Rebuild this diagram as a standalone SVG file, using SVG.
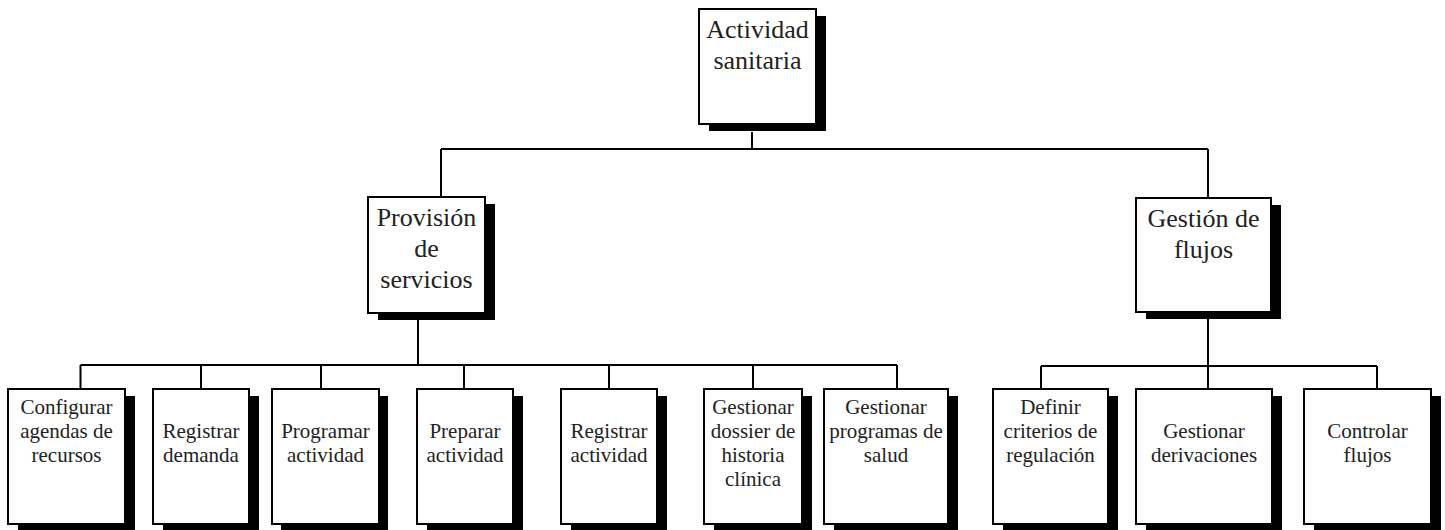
<svg xmlns="http://www.w3.org/2000/svg" width="1445" height="530" viewBox="0 0 1445 530">
  <style>
    .shadow { fill: #000; }
    .box { fill: #fff; stroke: #000; stroke-width: 2; }
    .lbl { font-family: "Liberation Serif", "Times New Roman", serif; fill: #222; text-anchor: middle; }
    .big { font-size: 26px; }
    .small { font-size: 21px; }
    .wire { fill: none; stroke: #000; stroke-width: 2; }
  </style>

  <!-- tree connectors -->
  <g id="connectors">
    <path class="wire" d="M752,132 V149 M441,149 H1208 M441,149 V197 M1208,149 V198"/>
    <path class="wire" d="M418,320 V365 M80.5,365 H897 M80.5,365 V389 M201,365 V389 M321,365 V389 M464,365 V389 M609,365 V389 M753,365 V389 M897,365 V389"/>
    <path class="wire" d="M1208,319 V366 M1041,366 H1377 M1041,366 V389 M1208,366 V389 M1377,366 V389"/>
  </g>

  <!-- root -->
  <g id="actividad-sanitaria">
    <rect class="shadow" x="709" y="16" width="117" height="115"/>
    <rect class="box" x="699" y="9" width="117" height="115"/>
    <text class="lbl big" x="757.5" y="38">Actividad</text>
    <text class="lbl big" x="757.5" y="69">sanitaria</text>
  </g>

  <!-- second level -->
  <g id="provision-servicios">
    <rect class="shadow" x="378" y="204" width="117" height="116"/>
    <rect class="box" x="368" y="197" width="117" height="116"/>
    <text class="lbl big" x="426.5" y="226">Provisión</text>
    <text class="lbl big" x="426.5" y="257">de</text>
    <text class="lbl big" x="426.5" y="288">servicios</text>
  </g>

  <g id="gestion-flujos">
    <rect class="shadow" x="1146" y="205" width="135" height="114"/>
    <rect class="box" x="1136" y="198" width="135" height="114"/>
    <text class="lbl big" x="1203.5" y="227">Gestión de</text>
    <text class="lbl big" x="1203.5" y="258">flujos</text>
  </g>

  <!-- leaves: provisión de servicios -->
  <g id="configurar-agendas">
    <rect class="shadow" x="18" y="396" width="117" height="135"/>
    <rect class="box" x="8" y="389" width="117" height="135"/>
    <text class="lbl small" x="66.5" y="414">Configurar</text>
    <text class="lbl small" x="66.5" y="438">agendas de</text>
    <text class="lbl small" x="66.5" y="462">recursos</text>
  </g>

  <g id="registrar-demanda">
    <rect class="shadow" x="163" y="396" width="96" height="135"/>
    <rect class="box" x="153" y="389" width="96" height="135"/>
    <text class="lbl small" x="201" y="438">Registrar</text>
    <text class="lbl small" x="201" y="462">demanda</text>
  </g>

  <g id="programar-actividad">
    <rect class="shadow" x="281" y="396" width="107" height="135"/>
    <rect class="box" x="272" y="389" width="107" height="135"/>
    <text class="lbl small" x="325.5" y="438">Programar</text>
    <text class="lbl small" x="325.5" y="462">actividad</text>
  </g>

  <g id="preparar-actividad">
    <rect class="shadow" x="427" y="396" width="96" height="135"/>
    <rect class="box" x="417" y="389" width="96" height="135"/>
    <text class="lbl small" x="465" y="438">Preparar</text>
    <text class="lbl small" x="465" y="462">actividad</text>
  </g>

  <g id="registrar-actividad">
    <rect class="shadow" x="571" y="396" width="96" height="135"/>
    <rect class="box" x="561" y="389" width="96" height="135"/>
    <text class="lbl small" x="609" y="438">Registrar</text>
    <text class="lbl small" x="609" y="462">actividad</text>
  </g>

  <g id="gestionar-dossier">
    <rect class="shadow" x="714" y="396" width="98" height="135"/>
    <rect class="box" x="704" y="389" width="98" height="135"/>
    <text class="lbl small" x="753" y="414">Gestionar</text>
    <text class="lbl small" x="753" y="438">dossier de</text>
    <text class="lbl small" x="753" y="462">historia</text>
    <text class="lbl small" x="753" y="486">clínica</text>
  </g>

  <g id="gestionar-programas">
    <rect class="shadow" x="834" y="396" width="124" height="135"/>
    <rect class="box" x="824" y="389" width="124" height="135"/>
    <text class="lbl small" x="886" y="414">Gestionar</text>
    <text class="lbl small" x="886" y="438">programas de</text>
    <text class="lbl small" x="886" y="462">salud</text>
  </g>

  <!-- leaves: gestión de flujos -->
  <g id="definir-criterios">
    <rect class="shadow" x="1003" y="396" width="115" height="135"/>
    <rect class="box" x="993" y="389" width="115" height="135"/>
    <text class="lbl small" x="1050.5" y="414">Definir</text>
    <text class="lbl small" x="1050.5" y="438">criterios de</text>
    <text class="lbl small" x="1050.5" y="462">regulación</text>
  </g>

  <g id="gestionar-derivaciones">
    <rect class="shadow" x="1146" y="396" width="136" height="135"/>
    <rect class="box" x="1136" y="389" width="136" height="135"/>
    <text class="lbl small" x="1204" y="438">Gestionar</text>
    <text class="lbl small" x="1204" y="462">derivaciones</text>
  </g>

  <g id="controlar-flujos">
    <rect class="shadow" x="1314" y="396" width="127" height="135"/>
    <rect class="box" x="1304" y="389" width="127" height="135"/>
    <text class="lbl small" x="1367.5" y="438">Controlar</text>
    <text class="lbl small" x="1367.5" y="462">flujos</text>
  </g>
</svg>
